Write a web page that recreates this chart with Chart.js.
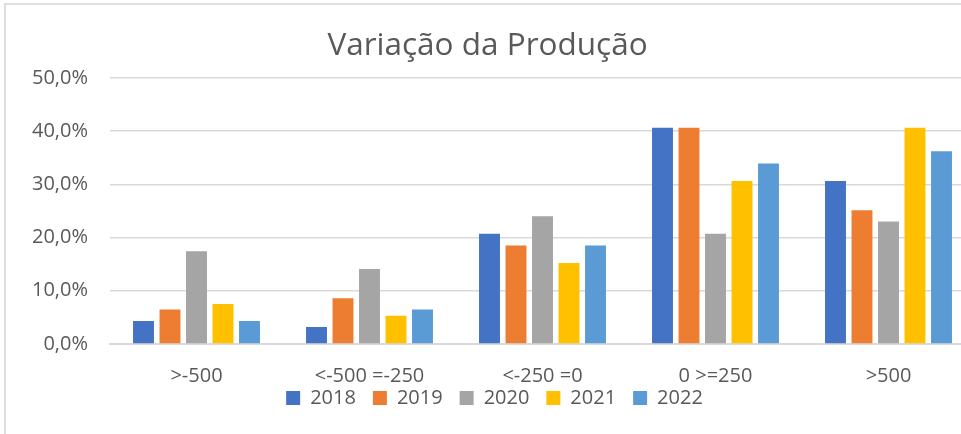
<!DOCTYPE html>
<html>
<head>
<meta charset="utf-8">
<script src="https://cdn.jsdelivr.net/npm/chart.js@4/dist/chart.umd.min.js"></script>
<style>
  html, body { margin: 0; padding: 0; background: #fff; overflow: hidden; }
  #frame {
    position: absolute; left: 4px; top: 3px; width: 1200px; height: 600px;
    border-left: 2px solid #dedede; border-top: 2px solid #dedede;
  }
  /* taller than the window; the bottom is cropped like the reference */
  #wrap { position: absolute; left: 0; top: 0; width: 980px; height: 460px; }
</style>
</head>
<body>
<div id="frame"></div>
<div id="wrap"><canvas id="chart"></canvas></div>
<script>
  // values (percent)
  const categories = [">-500", "<-500 =-250", "<-250 =0", "0 >=250", ">500"];
  const years = ["2018", "2019", "2020", "2021", "2022"];
  const v2018 = [4.3, 3.2, 20.7, 40.6, 30.6];
  const v2019 = [6.5, 8.6, 18.5, 40.6, 25.1];
  const v2020 = [17.4, 14.1, 24.0, 20.7, 23.0];
  const v2021 = [7.5, 5.3, 15.2, 30.6, 40.6];
  const v2022 = [4.3, 6.5, 18.5, 33.9, 36.2];
  const yTicks = [0, 10, 20, 30, 40, 50];

  const colors = ["#4472C4", "#ED7D31", "#A5A5A5", "#FFC000", "#5B9BD5"];
  const series = [v2018, v2019, v2020, v2021, v2022];
  const textColor = "#595959";
  const font = "'Open Sans', sans-serif";

  function fmtPct(v) {
    return Number(v).toFixed(1).replace(".", ",") + "%";
  }

  // Excel packs the legend right under the category labels
  const tuckLegend = {
    id: "tuckLegend",
    afterLayout(chart) {
      const lg = chart.legend;
      if (!lg) return;
      lg.top -= 17;
      lg.bottom -= 17;
      lg.left += 7;
      lg.right += 7;
    },
  };

  new Chart(document.getElementById("chart"), {
    type: "bar",
    data: {
      labels: categories,
      datasets: years.map((y, i) => ({
        label: y,
        data: series[i],
        backgroundColor: colors[i],
        borderWidth: 0,
        categoryPercentage: 0.766,
        barPercentage: 0.79,
      })),
    },
    options: {
      responsive: true,
      maintainAspectRatio: false,
      animation: false,
      layout: { padding: { left: 0, right: 5, top: 0, bottom: 25 } },
      plugins: {
        title: {
          display: true,
          text: "Variação da Produção",
          color: textColor,
          font: { family: font, size: 31.5, weight: "normal" },
          padding: { top: 27, bottom: 13 },
        },
        legend: {
          position: "bottom",
          labels: {
            color: textColor,
            font: { family: font, size: 20 },
            boxWidth: 14,
            boxHeight: 14,
            padding: 17,
          },
        },
        tooltip: { enabled: false },
      },
      scales: {
        x: {
          afterFit: (scale) => { scale.height = 44; },
          grid: { display: false, drawTicks: false },
          border: { color: "#d9d9d9", width: 2 },
          ticks: {
            color: textColor,
            font: { family: font, size: 20 },
            padding: 20,
            maxRotation: 0,
            autoSkip: false,
          },
        },
        y: {
          min: 0,
          max: 50,
          afterFit: (scale) => { scale.width = 110; },
          afterBuildTicks: (scale) => {
            scale.ticks = yTicks.map((v) => ({ value: v }));
          },
          grid: { color: "#d9d9d9", lineWidth: 1.5, drawTicks: false },
          border: { display: false },
          ticks: {
            color: textColor,
            font: { family: font, size: 20 },
            padding: 22,
            callback: (v) => fmtPct(v),
          },
        },
      },
    },
    plugins: [tuckLegend],
  });
</script>
</body>
</html>
